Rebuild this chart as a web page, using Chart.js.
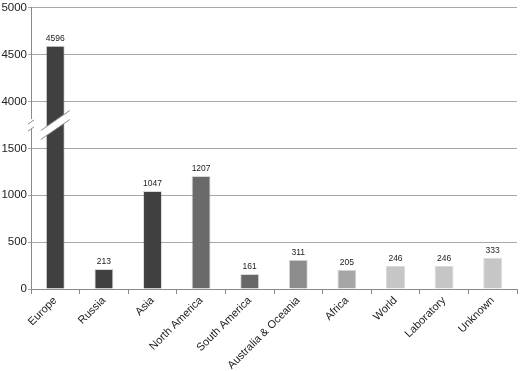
<!DOCTYPE html>
<html>
<head>
<meta charset="utf-8">
<script src="https://cdn.jsdelivr.net/npm/chart.js@4/dist/chart.umd.min.js"></script>
<style>
  html, body { margin: 0; padding: 0; background: #fff; }
  #wrap { width: 520px; height: 371px; position: relative; }
</style>
</head>
<body>
<div id="wrap"><canvas id="c"></canvas></div>
<script>
// ---- data ----
const categories = ['Europe', 'Russia', 'Asia', 'North America', 'South America',
  'Australia & Oceania', 'Africa', 'World', 'Laboratory', 'Unknown'];
const counts = [4596, 213, 1047, 1207, 161, 311, 205, 246, 246, 333];
const yTickValues = [0, 500, 1000, 1500, 4000, 4500, 5000];
const breakLow = 1500;   // axis is broken between these two values
const breakHigh = 4000;

// ---- broken axis mapping (display units) ----
const gapUnits = 500; // the break occupies one tick interval
function toDisplay(v) {
  if (v <= breakLow) return v;
  if (v >= breakHigh) return v - (breakHigh - breakLow) + gapUnits;
  return breakLow + (v - breakLow) / (breakHigh - breakLow) * gapUnits;
}
function fromDisplay(d) {
  if (d <= breakLow) return d;
  if (d >= breakLow + gapUnits) return d + (breakHigh - breakLow) - gapUnits;
  return null;
}

const barColors = ['#404040', '#404040', '#404040', '#6a6a6a', '#686868',
  '#8c8c8c', '#a6a6a6', '#c6c6c6', '#c6c6c6', '#c6c6c6'];

const valueLabels = {
  id: 'valueLabels',
  afterDatasetsDraw(chart) {
    const ctx = chart.ctx;
    const meta = chart.getDatasetMeta(0);
    ctx.save();
    ctx.font = '8.5px "Liberation Sans", Arial, sans-serif';
    ctx.fillStyle = '#222';
    ctx.textAlign = 'center';
    ctx.textBaseline = 'bottom';
    meta.data.forEach((bar, i) => {
      ctx.fillText(String(counts[i]), bar.x, bar.y - 3);
    });
    ctx.restore();
  }
};

const axisBreak = {
  id: 'axisBreak',
  afterDatasetsDraw(chart) {
    const ctx = chart.ctx;
    const ys = chart.scales.y;
    const ym = ys.getPixelForValue(breakLow + gapUnits / 2);
    const bar = chart.getDatasetMeta(0).data[0];
    const x0 = bar.x - bar.width / 2 - 5;
    const x1 = bar.x + bar.width / 2 + 5;
    const cx = (x0 + x1) / 2;
    const slope = -0.69;
    const half = 4.5;
    const yAt = (x, off) => ym + off + (x - cx) * slope;
    ctx.save();
    ctx.fillStyle = '#fff';
    ctx.beginPath();
    ctx.moveTo(x0, yAt(x0, -half));
    ctx.lineTo(x1, yAt(x1, -half));
    ctx.lineTo(x1, yAt(x1, half));
    ctx.lineTo(x0, yAt(x0, half));
    ctx.closePath();
    ctx.fill();
    ctx.strokeStyle = '#8a8a8a';
    ctx.lineWidth = 1;
    ctx.beginPath();
    ctx.moveTo(x0, yAt(x0, -half));
    ctx.lineTo(x1, yAt(x1, -half));
    ctx.moveTo(x0, yAt(x0, half));
    ctx.lineTo(x1, yAt(x1, half));
    ctx.stroke();

    // break on the y axis line
    const ax = chart.chartArea.left;
    ctx.fillStyle = '#fff';
    ctx.fillRect(ax - 3, ym - 6, 6, 10);
    ctx.strokeStyle = '#8a8a8a';
    ctx.beginPath();
    ctx.moveTo(ax - 3, ym - 3 + 3 * 0.69);
    ctx.lineTo(ax + 3, ym - 3 - 3 * 0.69);
    ctx.moveTo(ax - 3, ym + 4 + 3 * 0.69);
    ctx.lineTo(ax + 3, ym + 4 - 3 * 0.69);
    ctx.stroke();
    ctx.restore();
  }
};

new Chart(document.getElementById('c'), {
  type: 'bar',
  data: {
    labels: categories,
    datasets: [{
      data: counts.map(toDisplay),
      backgroundColor: barColors,
      borderColor: barColors.map(() => 'rgba(0,0,0,0.15)'),
      borderWidth: 1,
      categoryPercentage: 1,
      barPercentage: 0.39
    }]
  },
  options: {
    responsive: true,
    maintainAspectRatio: false,
    animation: false,
    devicePixelRatio: 1,
    layout: { padding: { top: 6, right: 3, left: 0, bottom: 0 } },
    plugins: { legend: { display: false }, tooltip: { enabled: false } },
    scales: {
      x: {
        grid: { display: true, drawOnChartArea: false, color: '#8a8a8a', tickLength: 5, offset: true },
        border: { color: '#8a8a8a' },
        ticks: {
          minRotation: 45, maxRotation: 45, autoSkip: false,
          color: '#222', padding: 0,
          font: { family: '"Liberation Sans", Arial, sans-serif', size: 11 }
        },
        afterFit(scale) { scale.height = 82; }
      },
      y: {
        min: 0,
        max: toDisplay(5000),
        afterBuildTicks(scale) {
          scale.ticks = yTickValues.map(v => ({ value: toDisplay(v) }));
        },
        grid: { color: '#a8a8a8', tickLength: 3 },
        border: { color: '#8a8a8a' },
        ticks: {
          color: '#222', padding: 1,
          font: { family: '"Liberation Sans", Arial, sans-serif', size: 11.5 },
          callback(value) { const v = fromDisplay(value); return v === null ? '' : String(v); }
        },
        afterFit(scale) { scale.width = 31; }
      }
    }
  },
  plugins: [valueLabels, axisBreak]
});
</script>
</body>
</html>
